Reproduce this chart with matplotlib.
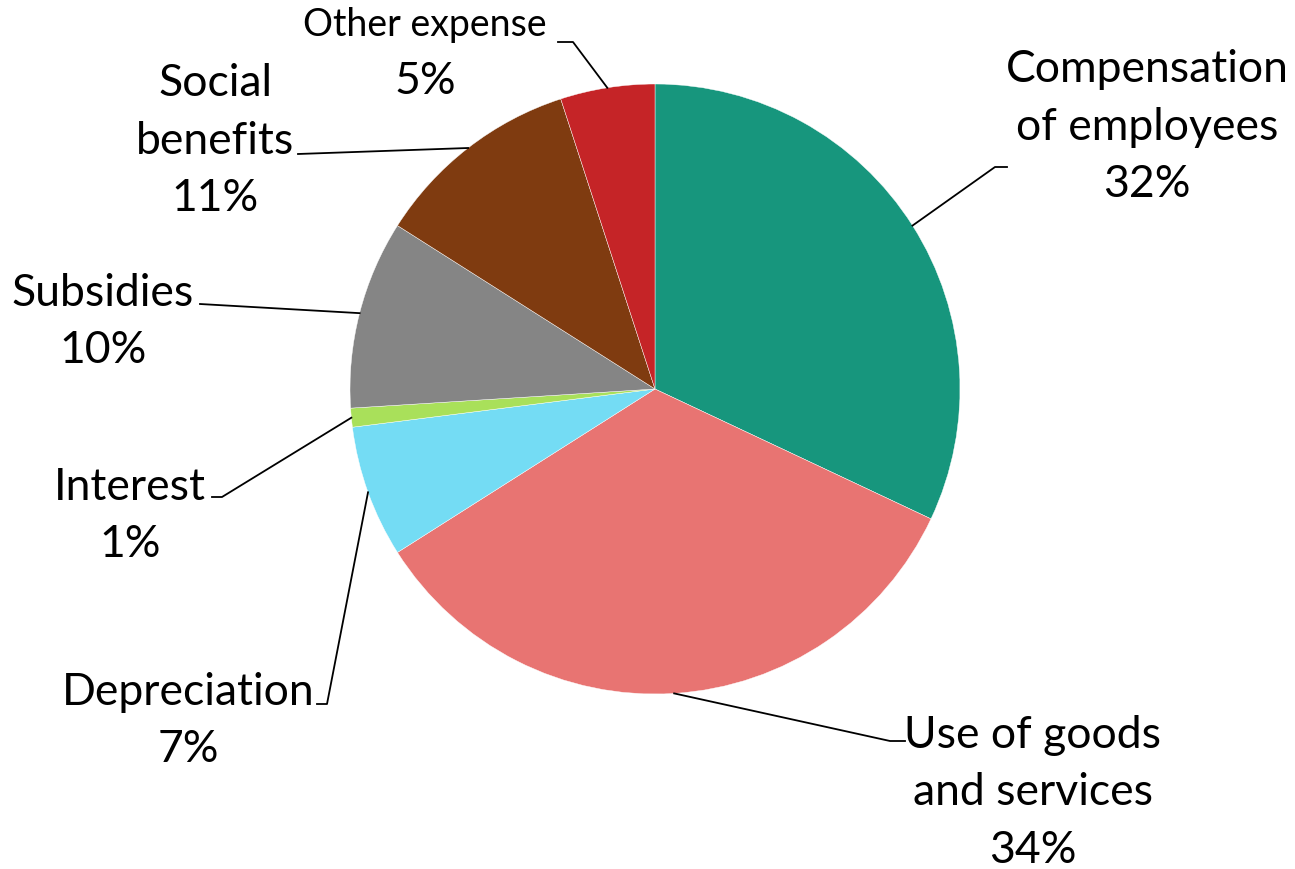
import matplotlib.pyplot as plt
import numpy as np

categories = ["Compensation\nof employees", "Use of goods\nand services", "Depreciation",
              "Interest", "Subsidies", "Social\nbenefits", "Other expense"]
shares = [32, 34, 7, 1, 10, 11, 5]
colors = ["#17967D", "#E87472", "#74DCF4", "#A9E05A", "#858585", "#7F3B10", "#C52427"]

# label layout in pixel coords: text centre, elbow of leader line, end of leader line
label_pos = [(1147, 127), (1033, 793), (188, 721), (130, 516), (103, 322), (215, 141), (425, 54)]
elbow = [(995, 168), (890, 742), (327, 705), (222, 498), (200, 305), (298, 155), (573, 43)]
tail = [(1007, 168), (905, 742), (317, 705), (212, 498), (200, 305), (298, 155), (558, 43)]

plt.rcParams['font.family'] = ['Lato', 'DejaVu Sans']

fig = plt.figure(figsize=(12.95, 8.70), dpi=100)
ax = fig.add_axes([0, 0, 1, 1])
cx, cy, r = 655, 390, 305

wedges, _ = ax.pie(shares, colors=colors, startangle=90, counterclock=False,
                   center=(cx, -cy), radius=r,
                   wedgeprops=dict(edgecolor='white', linewidth=0.3))

for i, w in enumerate(wedges):
    ang = np.deg2rad((w.theta1 + w.theta2) / 2)
    px = cx + r * np.cos(ang)
    py = -cy + r * np.sin(ang)
    ex, ey = elbow[i]
    tx, ty = tail[i]
    ax.plot([px, ex, tx], [py, -ey, -ty], color='black', lw=1.3, zorder=3)
    lx, ly = label_pos[i]
    if i == 6:
        # the small category name sits above a full-size percentage
        ax.text(lx, -(ly - 29), categories[i], ha='center', va='center', fontsize=27)
        ax.text(lx, -(ly + 28), f"{shares[i]}%", ha='center', va='center', fontsize=32)
    else:
        ax.text(lx, -ly, f"{categories[i]}\n{shares[i]}%", ha='center', va='center',
                multialignment='center', fontsize=32, linespacing=1.5)

ax.set_xlim(0, 1295)
ax.set_ylim(-870, 0)
ax.set_aspect('equal')
ax.axis('off')

plt.savefig('out.png', dpi=100)
